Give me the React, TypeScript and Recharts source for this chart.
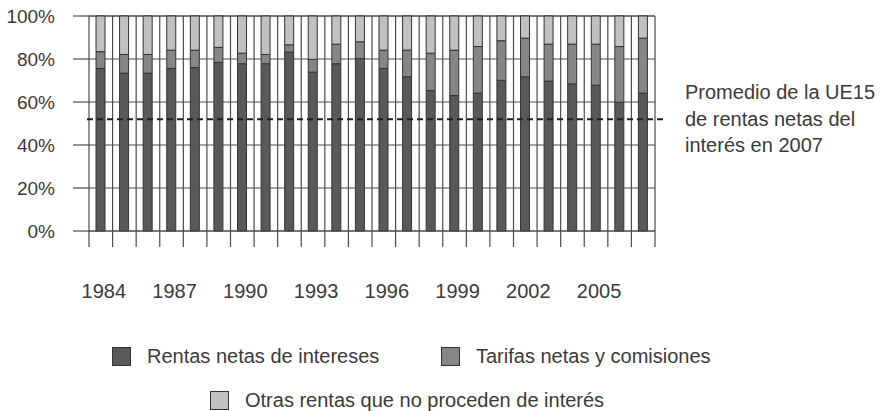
import React from 'react'
import { BarChart, Bar, XAxis, YAxis, CartesianGrid, ReferenceLine, Legend } from 'recharts'

const years = [
  '1984', '1985', '1986', '1987', '1988', '1989', '1990', '1991', '1992', '1993', '1994', '1995',
  '1996', '1997', '1998', '1999', '2000', '2001', '2002', '2003', '2004', '2005', '2006', '2007',
]
const rentasIntereses = [
  75.6, 73.4, 73.4, 75.6, 76.0, 78.4, 77.8, 77.8, 83.2, 73.9, 77.8, 80.2,
  75.6, 71.7, 65.3, 63.0, 64.1, 70.1, 71.7, 69.7, 68.4, 67.8, 59.9, 64.1,
]
const tarifasComisiones = [
  7.8, 8.7, 8.7, 8.5, 8.1, 7.0, 4.9, 4.3, 3.4, 5.9, 9.1, 7.8,
  8.5, 12.4, 17.4, 21.1, 21.7, 18.4, 18.0, 17.2, 18.5, 19.1, 25.9, 25.6,
]
const otrasRentas = [
  16.6, 17.9, 17.9, 15.9, 15.9, 14.6, 17.3, 17.9, 13.4, 20.2, 13.1, 12.0,
  15.9, 15.9, 17.3, 15.9, 14.2, 11.5, 10.3, 13.1, 13.1, 13.1, 14.2, 10.3,
]
const yTicks = [0, 20, 40, 60, 80, 100]
const labelEvery = 3
const promedioUE15 = 52
const noteLines = ['Promedio de la UE15', 'de rentas netas del', 'interés en 2007']

const series = [
  { key: 'intereses', name: 'Rentas netas de intereses', color: '#58595b' },
  { key: 'tarifas', name: 'Tarifas netas y comisiones', color: '#858688' },
  { key: 'otras', name: 'Otras rentas que no proceden de interés', color: '#c0c1c3' },
]

const data = years.map((year, i) => ({
  year,
  intereses: rentasIntereses[i],
  tarifas: tarifasComisiones[i],
  otras: otrasRentas[i],
}))

const FONT = '"Liberation Sans", Arial, sans-serif'
const TEXT = '#3a3a3a'
const LINE = '#4a4a4a'

// legend placement from the picture: two items on the first row, one below
const legendSpots: Record<string, { left: number; top: number }> = {
  'Rentas netas de intereses': { left: 112, top: 7 },
  'Tarifas netas y comisiones': { left: 441, top: 7 },
  'Otras rentas que no proceden de interés': { left: 210, top: 51 },
}

function renderLegend(props: any) {
  const items = props.payload || []
  return (
    <div style={{ position: 'relative', width: 882, height: 75, fontFamily: FONT }}>
      {items.map((item: any) => {
        const spot = legendSpots[item.value] || { left: 0, top: 0 }
        return (
          <div
            key={item.value}
            style={{
              position: 'absolute',
              left: spot.left,
              top: spot.top,
              display: 'flex',
              alignItems: 'center',
              whiteSpace: 'nowrap',
              lineHeight: '19px',
            }}
          >
            <span
              style={{
                display: 'inline-block',
                boxSizing: 'border-box',
                width: 19,
                height: 19,
                background: item.color,
                border: '1.5px solid #333',
                marginRight: 16,
              }}
            />
            <span style={{ fontSize: 20, color: TEXT }}>{item.value}</span>
          </div>
        )
      })}
    </div>
  )
}

// year label every third band, plus a tick line on each band boundary
function YearTick(props: any) {
  const { x, y, payload } = props
  const half = payload.offset || 0
  const last = payload.index === years.length - 1
  return (
    <g>
      <line x1={x - half} x2={x - half} y1={y} y2={y + 16} stroke={LINE} strokeWidth={1.2} />
      {last && <line x1={x + half} x2={x + half} y1={y} y2={y + 16} stroke={LINE} strokeWidth={1.2} />}
      {payload.index % labelEvery === 0 && (
        <text x={x + 3} y={y + 67} textAnchor="middle" fill={TEXT} fontSize={20} fontFamily={FONT}>
          {payload.value}
        </text>
      )}
    </g>
  )
}

function renderNote(props: any) {
  const vb = props.viewBox
  const x = vb.x + vb.width + 30
  return (
    <text x={x} y={vb.y - 20} fill={TEXT} fontSize={20} fontFamily={FONT}>
      {noteLines.map((line, i) => (
        <tspan key={line} x={x} dy={i === 0 ? 0 : 26.5}>
          {line}
        </tspan>
      ))}
    </text>
  )
}

export default function App() {
  return (
    <div style={{ position: 'absolute', left: 0, top: 0, width: 882, height: 411, background: '#fff' }}>
      <BarChart
        width={882}
        height={411}
        data={data}
        margin={{ top: 16, right: 227, bottom: 94, left: 0 }}
        barSize={9}
      >
        <CartesianGrid
          stroke={LINE}
          strokeWidth={1.2}
          verticalCoordinatesGenerator={({ offset }: any) =>
            years.concat('end').map((_, i) => offset.left + (i * offset.width) / years.length)
          }
        />
        <XAxis
          dataKey="year"
          interval={0}
          height={86}
          tickSize={0}
          tickMargin={0}
          tickLine={false}
          axisLine={{ stroke: LINE, strokeWidth: 1.2 }}
          tick={<YearTick />}
        />
        <YAxis
          domain={[0, 100]}
          ticks={yTicks}
          width={89}
          tickSize={16}
          tickMargin={18}
          axisLine={false}
          tickLine={{ stroke: LINE, strokeWidth: 1.2 }}
          tickFormatter={(v) => `${v}%`}
          tick={{ fill: TEXT, fontSize: 19, fontFamily: FONT }}
        />
        {series.map((s) => (
          <Bar
            key={s.key}
            dataKey={s.key}
            name={s.name}
            stackId="a"
            fill={s.color}
            stroke="#333"
            strokeWidth={1}
            isAnimationActive={false}
          />
        ))}
        <ReferenceLine
          y={promedioUE15}
          stroke="#1e1e1e"
          strokeWidth={2}
          strokeDasharray="6 4"
          label={renderNote}
          shape={(p: any) => (
            <line x1={p.x1 - 2} y1={p.y1} x2={p.x2 + 8} y2={p.y2} stroke="#1e1e1e" strokeWidth={2} strokeDasharray="6 4" />
          )}
        />
        <Legend
          layout="horizontal"
          verticalAlign="middle"
          align="center"
          content={renderLegend}
          wrapperStyle={{ top: 340, left: 0, width: 882 }}
        />
      </BarChart>
    </div>
  )
}
